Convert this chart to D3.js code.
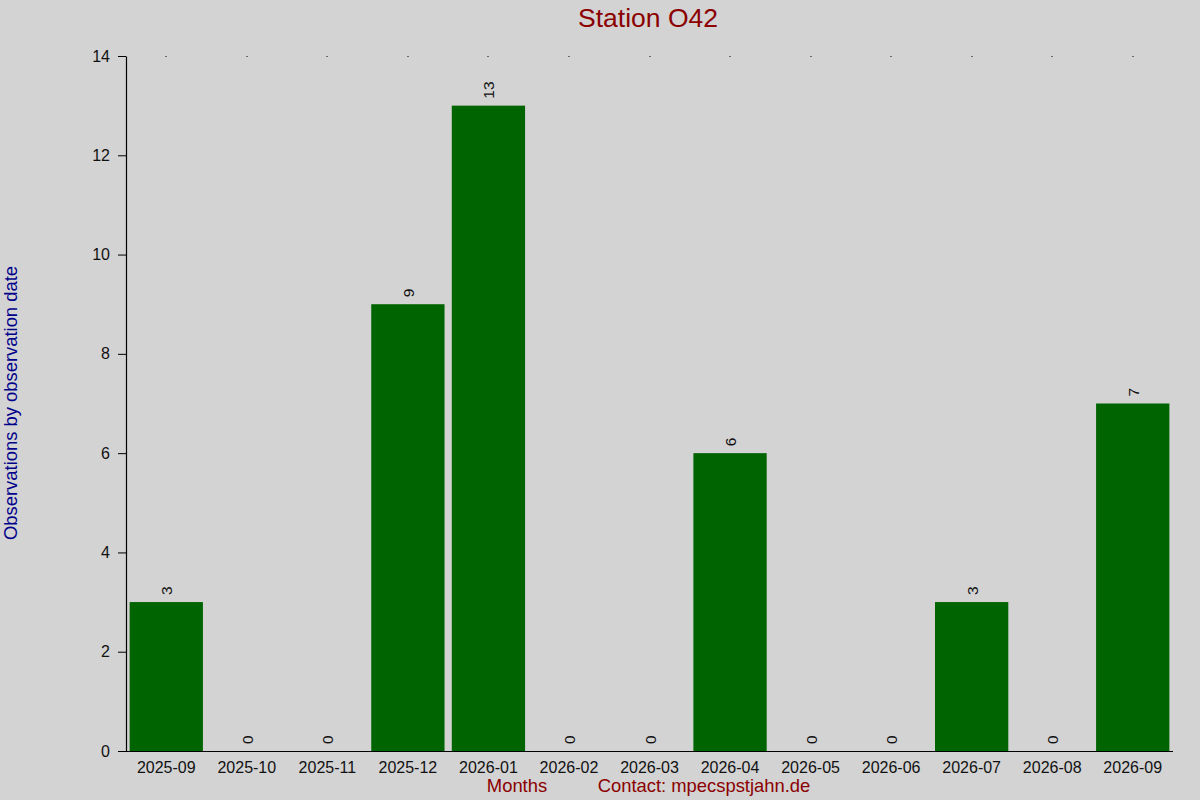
<!DOCTYPE html>
<html>
<head>
<meta charset="utf-8">
<script src="https://cdn.jsdelivr.net/npm/d3@7"></script>
<style>
  body { margin: 0; background: #d3d3d3; }
  svg { display: block; font-family: "Liberation Sans", Arial, sans-serif; }
</style>
</head>
<body>
<svg id="chart" width="1200" height="800"></svg>
<script>
const months = ["2025-09", "2025-10", "2025-11", "2025-12", "2026-01", "2026-02", "2026-03",
  "2026-04", "2026-05", "2026-06", "2026-07", "2026-08", "2026-09"];
const counts = [3, 0, 0, 9, 13, 0, 0, 6, 0, 0, 3, 0, 7];
const yTicks = [0, 2, 4, 6, 8, 10, 12, 14];

const svg = d3.select("#chart");
svg.append("rect").attr("width", 1200).attr("height", 800).attr("fill", "#d3d3d3");

const x = d3.scaleBand()
  .domain(months)
  .range([126, 1173])
  .paddingInner(0.09)
  .paddingOuter(0.045);

const y = d3.scaleLinear().domain([0, 14]).range([751, 56]);

// bars
svg.selectAll(".bar")
  .data(months)
  .join("rect")
  .attr("class", "bar")
  .attr("x", (d) => x(d))
  .attr("y", (d, i) => y(counts[i]))
  .attr("width", x.bandwidth())
  .attr("height", (d, i) => y(0) - y(counts[i]))
  .attr("fill", "#006400");

// value labels, rotated
svg.selectAll(".val")
  .data(months)
  .join("text")
  .attr("class", "val")
  .attr("transform", (d, i) =>
    `translate(${x(d) + x.bandwidth() / 2 + 6},${y(counts[i]) - 7}) rotate(-90)`)
  .attr("font-size", 15.5)
  .attr("fill", "#111")
  .text((d, i) => counts[i]);

// y axis
const yAxis = svg.append("g")
  .attr("transform", "translate(126,0)")
  .call(d3.axisLeft(y).tickValues(yTicks).tickSize(8).tickSizeOuter(0));
yAxis.select(".domain").attr("stroke", "#000").attr("stroke-width", 1.2);
yAxis.selectAll(".tick line").attr("stroke", "#000");
yAxis.selectAll(".tick text")
  .attr("font-size", 16)
  .attr("font-family", "Liberation Sans, Arial, sans-serif")
  .attr("fill", "#111")
  .attr("x", -16);

// x axis
const xAxis = svg.append("g")
  .attr("transform", "translate(0,751)")
  .call(d3.axisBottom(x).tickSize(0).tickSizeOuter(0));
xAxis.select(".domain").remove();
svg.append("line")
  .attr("x1", 118).attr("x2", 1173)
  .attr("y1", 751.5).attr("y2", 751.5)
  .attr("stroke", "#000").attr("stroke-width", 1.2);
xAxis.selectAll(".tick text")
  .attr("font-size", 16)
  .attr("font-family", "Liberation Sans, Arial, sans-serif")
  .attr("fill", "#111")
  .attr("dy", "1.2em");

// small dots on top edge
svg.selectAll(".topdot")
  .data(months)
  .join("rect")
  .attr("class", "topdot")
  .attr("x", (d) => Math.round(x(d) + x.bandwidth() / 2) - 0.5)
  .attr("y", 56)
  .attr("width", 1)
  .attr("height", 1)
  .attr("fill", "#000");

// titles
svg.append("text")
  .attr("x", 648).attr("y", 27)
  .attr("text-anchor", "middle")
  .attr("font-size", 26.5)
  .attr("fill", "#8b0000")
  .text("Station O42");

svg.append("text")
  .attr("transform", "translate(17,403) rotate(-90)")
  .attr("text-anchor", "middle")
  .attr("font-size", 18.4)
  .attr("fill", "#00008b")
  .text("Observations by observation date");

svg.append("text")
  .attr("x", 517).attr("y", 792)
  .attr("text-anchor", "middle")
  .attr("font-size", 18.4)
  .attr("fill", "#8b0000")
  .text("Months");

svg.append("text")
  .attr("x", 704).attr("y", 792)
  .attr("text-anchor", "middle")
  .attr("font-size", 18.4)
  .attr("fill", "#8b0000")
  .text("Contact: mpecspstjahn.de");
</script>
</body>
</html>
